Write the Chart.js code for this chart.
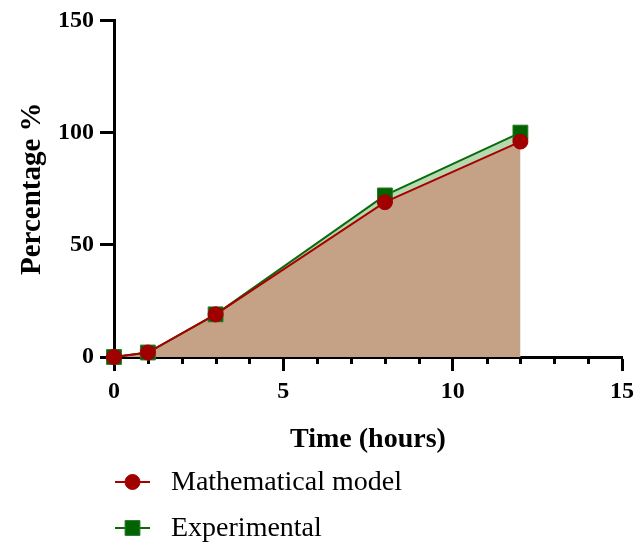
<!DOCTYPE html>
<html><head><meta charset="utf-8">
<script src="https://cdn.jsdelivr.net/npm/chart.js@4/dist/chart.umd.min.js"></script>
<style>html,body{margin:0;padding:0;background:#fff}#wrap{width:641px;height:549px}</style>
</head><body><div id="wrap"><canvas id="c" width="641" height="549"></canvas></div>
<script>
const timeHours = [0, 1, 3, 8, 12];
const modelValues = [0, 2, 19, 69, 96];
const experimentalValues = [0, 2, 19, 72, 100];
const seriesNames = ['Mathematical model', 'Experimental'];
const xTicks = [0, 5, 10, 15];
const yTicks = [0, 50, 100, 150];
const xTitle = 'Time (hours)';
const yTitle = 'Percentage %';

const SERIF = '"Liberation Serif", "Times New Roman", serif';
const toPts = (xs, ys) => xs.map((x, i) => ({x: x, y: ys[i]}));

const minorTicks = {
  id: 'minorTicks',
  beforeDatasetsDraw(chart) {
    const xs = chart.scales.x, ctx = chart.ctx;
    const y0 = chart.chartArea.bottom;
    ctx.save();
    ctx.strokeStyle = '#000'; ctx.lineWidth = 3;
    for (let v = xs.min; v <= xs.max; v++) {
      if (v % 5 === 0) continue;
      const px = Math.round(xs.getPixelForValue(v)) + 0.5;
      ctx.beginPath(); ctx.moveTo(px, y0); ctx.lineTo(px, y0 + 7); ctx.stroke();
    }
    ctx.restore();
  }
};

const customLegend = {
  id: 'customLegend',
  afterDraw(chart) {
    const ctx = chart.ctx;
    const rows = [482, 528];
    chart.data.datasets.forEach((ds, i) => {
      const y = rows[i];
      ctx.save();
      ctx.strokeStyle = ds.borderColor; ctx.lineWidth = 2;
      ctx.beginPath(); ctx.moveTo(115, y); ctx.lineTo(150, y); ctx.stroke();
      ctx.fillStyle = ds.pointBackgroundColor; ctx.strokeStyle = ds.pointBorderColor; ctx.lineWidth = 1;
      ctx.beginPath();
      if (ds.pointStyle === 'rect') { const s = ds.pointRadius * Math.SQRT1_2; ctx.rect(132.5 - s, y - s, 2 * s, 2 * s); }
      else { ctx.arc(132.5, y, ds.pointRadius, 0, Math.PI * 2); }
      ctx.fill(); ctx.stroke();
      ctx.restore();
      ctx.save();
      ctx.fillStyle = '#000'; ctx.font = '28px ' + SERIF;
      ctx.textBaseline = 'middle'; ctx.textAlign = 'left';
      ctx.fillText(ds.label, 171, y + 1);
      ctx.restore();
    });
  }
};

new Chart(document.getElementById('c'), {
  type: 'line',
  data: {
    datasets: [
      {
        label: seriesNames[0],
        data: toPts(timeHours, modelValues),
        borderColor: '#a80000', borderWidth: 2,
        backgroundColor: '#c5a285',
        fill: 'origin',
        pointStyle: 'circle', pointRadius: 7.5,
        pointBackgroundColor: '#a00000', pointBorderColor: '#a00000', pointBorderWidth: 1,
        tension: 0, clip: false
      },
      {
        label: seriesNames[1],
        data: toPts(timeHours, experimentalValues),
        borderColor: '#0b6a0b', borderWidth: 2,
        backgroundColor: '#b5dab0',
        fill: 'origin',
        pointStyle: 'rect', pointRadius: 10.5,
        pointBackgroundColor: '#006400', pointBorderColor: '#2a7a2a', pointBorderWidth: 1,
        tension: 0, clip: false
      }
    ]
  },
  options: {
    responsive: false,
    animation: false,
    layout: {padding: {top: 17, right: 19, left: 0, bottom: 92}},
    plugins: {
      legend: {display: false},
      tooltip: {enabled: false},
      filler: {drawTime: 'beforeDatasetsDraw'}
    },
    scales: {
      x: {
        type: 'linear', min: 0, max: 15,
        afterBuildTicks: s => { s.ticks = xTicks.map(v => ({value: v})); },
        afterFit: s => { s.height = 100; },
        border: {display: true, color: '#000', width: 3},
        grid: {drawOnChartArea: false, drawTicks: true, tickLength: 14, tickColor: '#000', tickWidth: 3},
        ticks: {color: '#000', padding: 6, font: {family: SERIF, size: 24, weight: 'bold'}, maxRotation: 0},
        title: {display: true, text: xTitle, color: '#000', padding: {top: 0, bottom: 0}, font: {family: SERIF, size: 28, weight: 'bold'}}
      },
      y: {
        type: 'linear', min: 0, max: 150,
        afterBuildTicks: s => { s.ticks = yTicks.map(v => ({value: v})); },
        afterFit: s => { s.width = 114; },
        border: {display: true, color: '#000', width: 3},
        grid: {drawOnChartArea: false, drawTicks: true, tickLength: 14, tickColor: '#000', tickWidth: 3},
        ticks: {color: '#000', padding: 6, font: {family: SERIF, size: 24, weight: 'bold'}},
        title: {display: true, text: yTitle, color: '#000', padding: {top: 15, bottom: 0}, font: {family: SERIF, size: 29, weight: 'bold'}}
      }
    }
  },
  plugins: [minorTicks, customLegend]
});
</script>
</body></html>
